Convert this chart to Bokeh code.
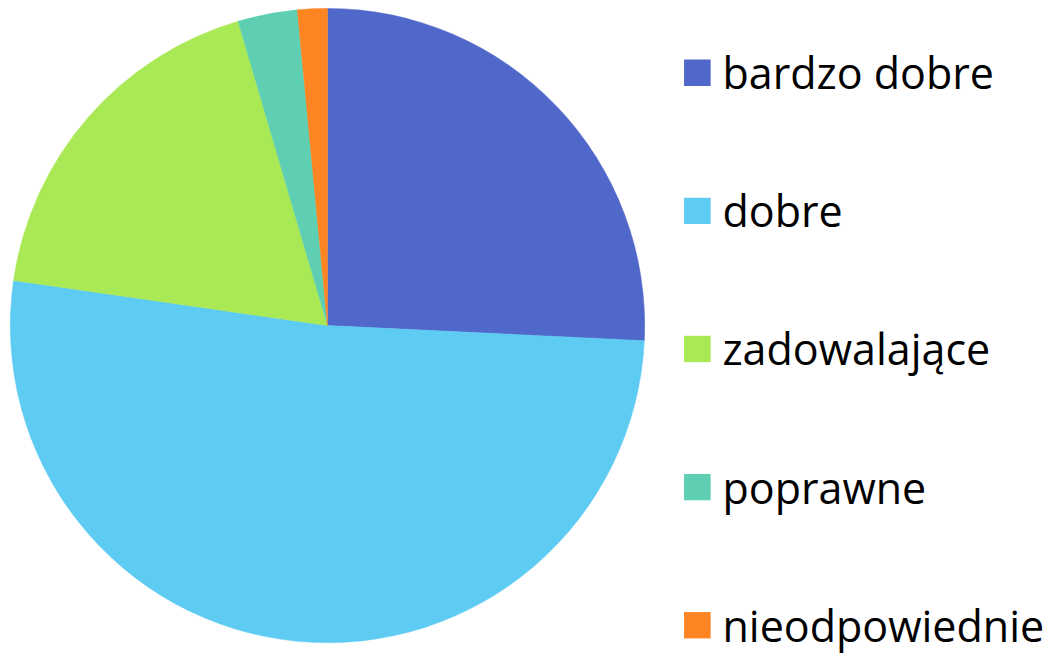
import numpy as np
from bokeh.plotting import figure
from bokeh.models import ColumnDataSource, Range1d
from bokeh.core.properties import value
from bokeh.embed import file_html
from bokeh.resources import INLINE

categories = ["bardzo dobre", "dobre", "zadowalające", "poprawne", "nieodpowiednie"]
counts = [17, 34, 12, 2, 1]
colors = ["#5068C9", "#5ECBF3", "#AAE956", "#5ECFB2", "#FF8522"]

W, H = 1047, 655
p = figure(width=W, height=H, output_backend="svg", toolbar_location=None,
           x_range=Range1d(0, 1063), y_range=Range1d(0, 671), min_border=0)
p.axis.visible = False
p.grid.visible = False
p.outline_line_color = None

vals = np.array(counts, dtype=float)
frac = vals / vals.sum()
cum = np.concatenate([[0], np.cumsum(frac)])
start = np.pi / 2 - cum[:-1] * 2 * np.pi
end = np.pi / 2 - cum[1:] * 2 * np.pi

cx, cy, r = 332, 338, 322
src = ColumnDataSource(dict(start=start, end=end, color=colors))
p.wedge(x=cx, y=cy, radius=r, start_angle="start", end_angle="end",
        direction="clock", fill_color="color", line_color="color", line_width=0.5, source=src)

n = len(categories)
ys = [597 - i * 141.5 for i in range(n)]
lsrc = ColumnDataSource(dict(y=ys, label=categories, color=colors))
p.rect(x=707.5, y="y", width=27, height=27, fill_color="color", line_color=None, source=lsrc)
p.text(x=733, y="y", text="label", text_font=value("Open Sans"), text_font_size="43px",
       text_baseline="middle", text_color="#000000", source=lsrc)

open("out.html", "w").write(file_html(p, INLINE))
